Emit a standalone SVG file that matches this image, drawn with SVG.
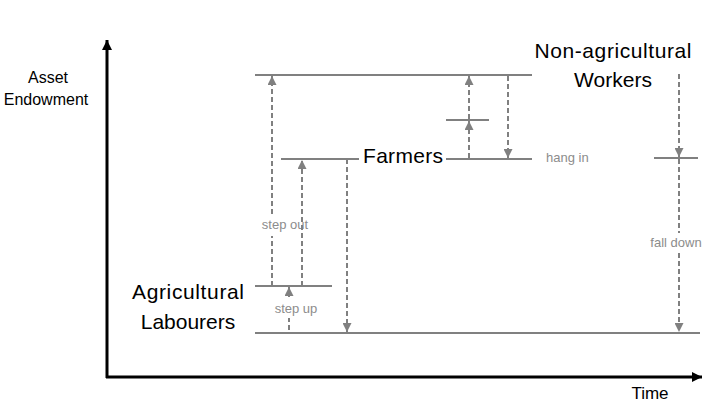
<svg xmlns="http://www.w3.org/2000/svg" width="720" height="405" viewBox="0 0 720 405">
<style>
.lvl{stroke:#808080;stroke-width:2;fill:none}
.dash{stroke:#808080;stroke-width:2;stroke-dasharray:5,3;fill:none}
.big{font-family:"Liberation Sans",Arial,sans-serif;font-size:21px;fill:#000}
.ax{font-family:"Liberation Sans",Arial,sans-serif;font-size:16px;fill:#000}
.lab{font-family:"Liberation Sans",Arial,sans-serif;font-size:13px;fill:#8c8c8c}
</style>
<defs>
<marker id="ah" viewBox="0 0 10 10" refX="10" refY="5" markerWidth="9" markerHeight="9" markerUnits="userSpaceOnUse" orient="auto"><path d="M0,0 L10,5 L0,10 z" fill="#808080"/></marker>
<marker id="axh" viewBox="0 0 10 10" refX="10" refY="5" markerWidth="10" markerHeight="10" markerUnits="userSpaceOnUse" orient="auto"><path d="M0,0 L10,5 L0,10 z" fill="#000"/></marker>
</defs>
<rect width="720" height="405" fill="#fff"/>
<g id="axes">
<line x1="107" y1="378" x2="107" y2="40" stroke="#000" stroke-width="3" marker-end="url(#axh)"/>
<line x1="106" y1="377" x2="702" y2="377" stroke="#000" stroke-width="3" marker-end="url(#axh)"/>
<text class="ax" x="48" y="83" text-anchor="middle">Asset</text>
<text class="ax" x="46" y="105" text-anchor="middle">Endowment</text>
<text class="ax" x="650" y="399" text-anchor="middle" style="font-size:17px">Time</text>
</g>
<g id="nonag">
<line class="lvl" x1="255" y1="75" x2="532" y2="75"/>
<text class="big" x="613" y="58" text-anchor="middle" textLength="157">Non-agricultural</text>
<text class="big" x="613" y="87" text-anchor="middle">Workers</text>
</g>
<g id="farmers">
<line class="lvl" x1="281" y1="159" x2="359" y2="159"/>
<text class="big" x="403" y="163" text-anchor="middle" textLength="80">Farmers</text>
<line class="lvl" x1="446" y1="159" x2="532" y2="159"/>
</g>
<g id="mid">
<line class="lvl" x1="446" y1="120" x2="489" y2="120"/>
</g>
<g id="hangin">
<line class="lvl" x1="654" y1="158" x2="698" y2="158"/>
</g>
<g id="labourers">
<line class="lvl" x1="255" y1="286" x2="332" y2="286"/>
<text class="big" x="188" y="299" text-anchor="middle" textLength="112">Agricultural</text>
<text class="big" x="188" y="329" text-anchor="middle">Labourers</text>
</g>
<g id="bottom">
<line class="lvl" x1="255" y1="333" x2="700" y2="333"/>
</g>
<g id="connectors">
<line class="dash" x1="272" y1="286" x2="272" y2="236"/>
<line class="dash" x1="272" y1="214" x2="272" y2="76" marker-end="url(#ah)"/>
<text class="lab" x="285" y="229" text-anchor="middle">step out</text>
<line class="dash" x1="302" y1="286" x2="302" y2="160" marker-end="url(#ah)"/>
<line class="dash" x1="289" y1="330" x2="289" y2="318"/>
<line class="dash" x1="289" y1="297" x2="289" y2="287" marker-end="url(#ah)"/>
<text class="lab" x="296" y="313" text-anchor="middle">step up</text>
<line class="dash" x1="347" y1="159" x2="347" y2="332" marker-end="url(#ah)"/>
<line class="dash" x1="469" y1="158" x2="469" y2="121" marker-end="url(#ah)"/>
<line class="dash" x1="469" y1="119" x2="469" y2="76" marker-end="url(#ah)"/>
<line class="dash" x1="508" y1="76" x2="508" y2="158" marker-end="url(#ah)"/>
<text class="lab" x="546" y="162">hang in</text>
<line class="dash" x1="679" y1="74" x2="679" y2="157" marker-end="url(#ah)"/>
<line class="dash" x1="679" y1="159" x2="679" y2="233"/>
<line class="dash" x1="679" y1="253" x2="679" y2="332" marker-end="url(#ah)"/>
<text class="lab" x="676" y="247" text-anchor="middle">fall down</text>
</g>
</svg>
